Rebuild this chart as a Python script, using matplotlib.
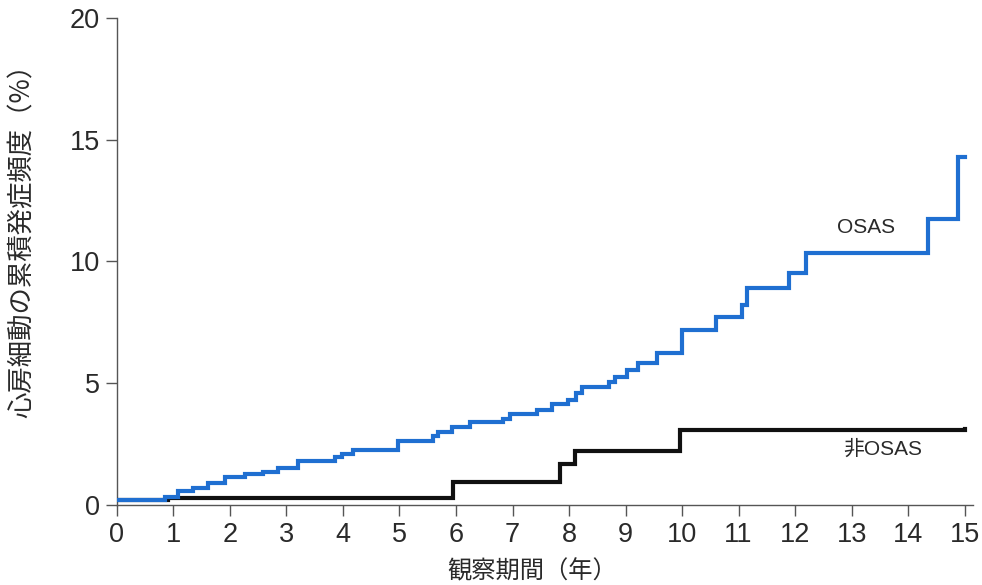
import matplotlib
matplotlib.use("Agg")
import matplotlib.pyplot as plt

plt.rcParams['font.family'] = ['Liberation Sans', 'Noto Sans CJK JP', 'DejaVu Sans']

# Kaplan-Meier style step data: time of each event (years) and cumulative incidence (%)
osas_years = [0.0, 0.85, 1.08, 1.35, 1.61, 1.91, 2.27, 2.58, 2.85, 3.20, 3.86, 3.98,
              4.18, 4.97, 5.59, 5.68, 5.93, 6.25, 6.83, 6.96, 7.43, 7.70, 7.98, 8.12,
              8.23, 8.70, 8.81, 9.03, 9.22, 9.56, 10.00, 10.60, 11.06, 11.15, 11.90,
              12.20, 14.35, 14.88, 15.0]
osas_pct = [0.20, 0.31, 0.56, 0.68, 0.89, 1.13, 1.25, 1.37, 1.53, 1.81, 1.96, 2.09,
            2.25, 2.61, 2.81, 2.98, 3.18, 3.39, 3.54, 3.75, 3.91, 4.16, 4.32, 4.60,
            4.84, 5.04, 5.24, 5.53, 5.82, 6.22, 7.20, 7.71, 8.20, 8.90, 9.51,
            10.35, 11.74, 14.28, 14.28]

non_osas_years = [0.0, 0.90, 5.95, 7.84, 8.10, 9.96, 15.0]
non_osas_pct = [0.20, 0.28, 0.94, 1.68, 2.20, 3.09, 3.12]

x_ticks = list(range(0, 16))
y_ticks = [0, 5, 10, 15, 20]

x_label = "観察期間（年）"
y_label = "心房細動の累積発症頻度（%）"
osas_label = "OSAS"
non_osas_label = "非OSAS"

fig = plt.figure(figsize=(9.82, 5.85), dpi=100)
ax = fig.add_axes([0.119, 0.137, 0.872, 0.832])

ax.step(non_osas_years, non_osas_pct, where="post", color="#111111", lw=3.0,
        solid_joinstyle="miter", zorder=3)
ax.step(osas_years, osas_pct, where="post", color="#1f6fd1", lw=3.0,
        solid_joinstyle="miter", zorder=4)

ax.set_xlim(0, 15.15)
ax.set_ylim(0, 20)
ax.set_xticks(x_ticks)
ax.set_yticks(y_ticks)

for side in ("top", "right"):
    ax.spines[side].set_visible(False)
for side in ("left", "bottom"):
    ax.spines[side].set_color("#555555")
    ax.spines[side].set_linewidth(1.0)

ax.tick_params(axis="both", direction="out", length=8, width=1.0, color="#555555",
               labelsize=19.5, labelcolor="#2a2a2a")
ax.tick_params(axis="x", pad=4)
ax.tick_params(axis="y", pad=4)

ax.text(13.25, 11.4, osas_label, fontsize=15, color="#2a2a2a", ha="center", va="center")
ax.text(13.55, 2.3, non_osas_label, fontsize=15, color="#2a2a2a", ha="center", va="center",
        family=['Liberation Sans', 'Noto Sans CJK JP'])

fig.text(0.023, 0.6, y_label, rotation=90, ha="center", va="center", fontsize=19,
         color="#2a2a2a", family=['Noto Sans CJK JP', 'DejaVu Sans'])
fig.text(0.542, 0.024, x_label, ha="center", va="center", fontsize=17.5,
         color="#2a2a2a", family=['Noto Sans CJK JP', 'DejaVu Sans'])

fig.savefig("out.png", dpi=100, facecolor="white")
